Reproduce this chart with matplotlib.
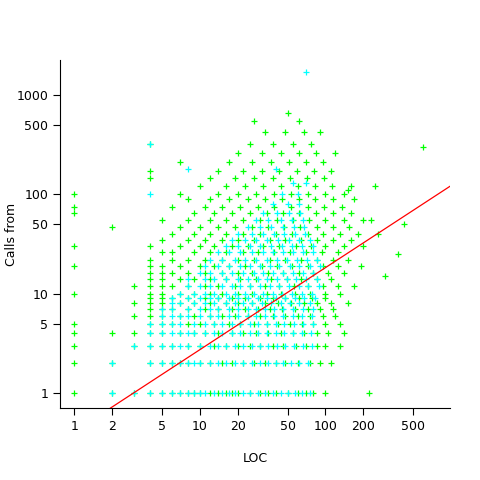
import matplotlib
matplotlib.use("Agg")
import matplotlib.pyplot as plt
import numpy as np

# low-count rows: y value -> x values
green_rows = {
 1: [1,2,3,4,5,6,7,8,9,10,12,14,16,18,20,25,30,35,40,50,60,70,80,100,220],
 2: [1,2,4,5,6,7,8,10,12,15,18,22,27,33,40,48,60,75,90,110],
 3: [1,3,4,5,6,8,10,13,16,20,25,30,38,46,58,70,85,100,130],
 4: [1,2,3,4,5,7,9,11,14,18,22,28,35,44,55,68,85,105,140],
 5: [1,4,5,6,8,10,13,17,21,27,34,42,52,65,80,100,130],
 6: [3,4,5,7,9,12,15,19,24,30,38,48,60,75,95,120],
 7: [4,5,6,8,11,14,18,23,29,36,45,57,72,90,115],
 8: [3,4,5,7,9,12,16,20,26,33,42,53,67,85,110,150],
 9: [4,5,6,8,11,14,18,23,30,38,48,61,78,100],
 10: [1,4,5,7,9,12,15,20,26,34,44,57,75,100,130],
 12: [3,4,5,6,8,11,14,19,25,33,43,56,73,95,125,170],
 14: [4,5,7,9,12,16,21,28,37,49,64,85,110],
 16: [4,5,6,8,11,15,20,26,35,46,61,80,105,140],
 19: [1,4,5,7,10,13,17,23,31,41,54,72,95,125,190],
 22: [4,6,8,11,15,20,27,36,48,64,85,115,150],
 26: [5,6,9,12,16,22,29,39,52,70,93,125],
 30: [1,4,7,10,13,18,24,32,43,58,77,100,140,200],
 35: [5,8,11,15,20,27,36,48,64,86,115,160],
 40: [6,9,12,16,22,30,40,54,72,96,130,180,260],
 47: [2,7,10,14,19,26,35,47,63,85,115,155],
 55: [5,8,12,16,22,30,41,55,74,100,140,200],
 65: [1,9,13,18,25,34,46,62,84,115,160],
 75: [1,6,11,15,21,29,39,53,72,98,135],
 90: [8,12,17,24,33,45,61,83,115,170],
 100: [1,7,14,20,28,39,53,72,99,140],
 120: [10,16,23,32,44,60,82,112,160,250],
 145: [4,12,19,27,38,52,71,97],
 170: [4,14,22,31,43,59,81,110],
 210: [7,17,26,37,51,70,96],
 260: [20,31,44,61,84,120],
 320: [4,25,38,55,76],
 420: [33,48,68,90],
 550: [27,62],
 650: [50],
}
green_extra_x = [600, 420, 380, 300, 230, 150]
green_extra_y = [300, 50, 25, 15, 55, 110]

cyan_rows = {
 1: [2,3,4,5,6,7,8,9,10,11,13,15,17,19,22,25,29,33,38,44,50,57,65,75],
 2: [2,4,5,6,7,8,9,10,12,14,16,19,22,26,30,35,40,46,53,62,72],
 3: [3,4,5,6,7,8,10,12,14,16,19,22,26,30,35,41,48,56,66,78],
 4: [4,5,6,7,8,9,11,13,15,18,21,25,29,34,40,47,55,65,76],
 5: [4,5,6,7,9,11,13,15,18,21,25,29,34,40,47,56,66,80],
 6: [5,6,7,8,10,12,14,17,20,24,28,33,39,46,55,65,78],
 7: [5,6,8,10,12,14,17,20,24,28,33,39,46,55,66,80],
 8: [6,7,9,11,13,16,19,22,26,31,37,44,52,62,75],
 9: [6,8,10,12,14,17,20,24,29,34,40,48,57,68,82],
 10: [7,9,11,13,16,19,23,27,32,38,45,54,65,78],
 12: [8,10,12,15,18,21,25,30,36,43,51,61,73,88],
 14: [8,11,13,16,20,24,29,34,41,49,58,70,85],
 16: [10,12,15,18,22,27,32,38,46,55,66,80],
 19: [11,14,17,21,25,30,36,43,52,62,75,90],
 22: [12,15,19,23,28,34,41,49,59,71,86],
 26: [14,17,21,26,32,38,46,55,66,80],
 30: [16,20,25,30,37,45,54,65,79],
 35: [18,23,28,34,42,51,62,75],
 40: [20,26,32,39,47,57,69],
 47: [24,30,37,46,56,68],
 55: [28,35,44,54,66],
 65: [32,41,51,63],
 80: [38,50,62],
 100: [4,45,60],
 130: [55,70],
 180: [8,40],
 320: [4],
 1700: [70],
}

xticks = [1, 2, 5, 10, 20, 50, 100, 200, 500]
yticks = [1, 5, 10, 50, 100, 500, 1000]
fit_a, fit_b = 0.41, 0.825

def expand(rows):
    xs, ys = [], []
    for y, xl in rows.items():
        xs += xl
        ys += [y] * len(xl)
    return xs, ys

gx, gy = expand(green_rows)
gx += green_extra_x; gy += green_extra_y
cx, cy = expand(cyan_rows)

fig = plt.figure(figsize=(4.8, 4.8), dpi=100)
ax = fig.add_axes([0.125, 0.15, 0.8125, 0.725])
ax.scatter(gx, gy, marker='+', color='#00FF00', s=25, linewidths=0.9)
ax.scatter(cx, cy, marker='+', color='#00FFFF', s=25, linewidths=0.9)
ax.set_xscale('log'); ax.set_yscale('log')
ax.set_xlim(0.77, 980); ax.set_ylim(0.71, 2240)
lx = np.array([0.77, 980])
ax.plot(lx, fit_a * lx ** fit_b, color='red', lw=0.9)
ax.set_xticks(xticks); ax.set_xticklabels([str(t) for t in xticks])
ax.set_yticks(yticks); ax.set_yticklabels([str(t) for t in yticks])
ax.minorticks_off()
ax.tick_params(labelsize=9, direction='out', length=5)
for s in ['top', 'right']:
    ax.spines[s].set_visible(False)
ax.set_xlabel('LOC', fontsize=9, labelpad=14)
fig.text(0.025, 0.5125, 'Calls from', fontsize=9, rotation=90, ha='center', va='center')
fig.savefig('out.png', dpi=100)
